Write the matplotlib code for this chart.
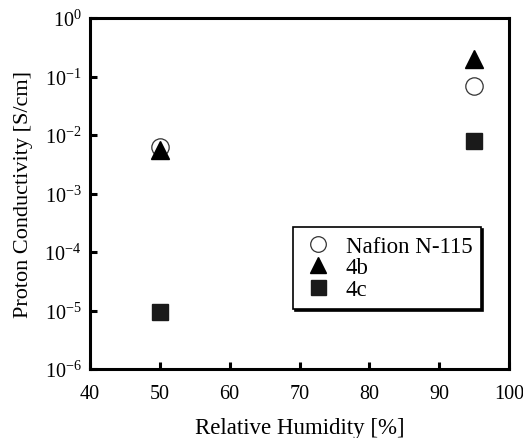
import math

import matplotlib
matplotlib.use("Agg")
import matplotlib.pyplot as plt
from matplotlib.ticker import FixedLocator, FuncFormatter

plt.rcParams["font.family"] = ["Liberation Serif", "DejaVu Serif"]
plt.rcParams["mathtext.fontset"] = "stix"
plt.rcParams["axes.unicode_minus"] = False

humidity = [50, 95]
nafion = [6.3e-3, 7.0e-2]
s4b = [5.6e-3, 2.0e-1]
s4c = [9.5e-6, 8.0e-3]

x_ticks = [40, 50, 60, 70, 80, 90, 100]
y_exps = [-6, -5, -4, -3, -2, -1, 0]

fig = plt.figure(figsize=(5.23, 4.39), dpi=100)
ax = fig.add_axes([90 / 523, 1 - 370 / 439, 419 / 523, 351 / 439])

ax.plot(humidity, nafion, "o", ms=12.5, mfc="white", mec="#333333", mew=0.9,
        ls="none", label="Nafion N-115")
ax.plot(humidity, s4b, "^", ms=12.5, color="black", ls="none", label="4b")
ax.plot(humidity, s4c, "s", ms=12, color="#1a1a1a", ls="none", label="4c")

ax.set_yscale("log")
ax.set_xlim(40, 100)
ax.set_ylim(1e-6, 1e0)
ax.xaxis.set_major_locator(FixedLocator(x_ticks))
ax.yaxis.set_major_locator(FixedLocator([10.0 ** e for e in y_exps]))
ax.yaxis.set_minor_locator(FixedLocator([]))
ax.yaxis.set_major_formatter(FuncFormatter(
    lambda v, p: r"10$^{\mathregular{%d}}$" % round(math.log10(v))))

for s in ax.spines.values():
    s.set_linewidth(2.2)
ax.tick_params(direction="in", length=5, width=2.2, labelsize=14.5)
ax.tick_params(axis="x", pad=11)
ax.tick_params(axis="y", pad=6)

ax.set_xlabel("Relative Humidity [%]", fontsize=16.5, labelpad=10)
ax.set_ylabel("Proton Conductivity [S/cm]", fontsize=16, labelpad=8)

leg = ax.legend(loc="lower left", bbox_to_anchor=(0.484, 0.171),
                borderaxespad=0, fontsize=16.5, frameon=True, fancybox=False,
                shadow={"ox": 1.5, "oy": -1.5, "color": "black", "alpha": 1},
                handletextpad=0.5, borderpad=0.4, labelspacing=0.02,
                handlelength=1.4, markerscale=0.9)
frame = leg.get_frame()
frame.set_edgecolor("black")
frame.set_linewidth(1.2)

fig.savefig("out.png", dpi=100)
